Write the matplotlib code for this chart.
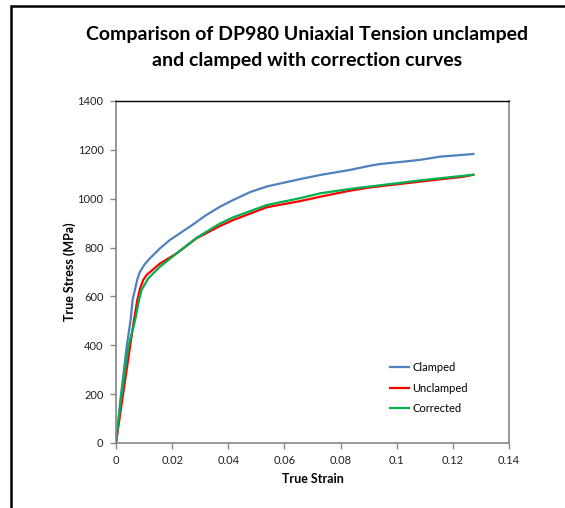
import matplotlib.pyplot as plt
from matplotlib.patches import Rectangle

# Data
strain_clamped = [0, 0.0017, 0.0038, 0.0052, 0.0059, 0.0068, 0.0076, 0.0085, 0.0103,
                  0.0121, 0.0157, 0.0192, 0.0275, 0.032, 0.037, 0.0418, 0.048, 0.0537,
                  0.0655, 0.0727, 0.0834, 0.0905, 0.094, 0.1035, 0.1083, 0.1154, 0.1273]
stress_clamped = [0, 190, 394, 503, 585, 630, 670, 700, 733,
                  756, 797, 831, 895, 932, 967, 995, 1028, 1050,
                  1080, 1097, 1118, 1135, 1142, 1153, 1159, 1172, 1183]

strain_unclamped = [0, 0.0024, 0.005, 0.0064, 0.0076, 0.0085, 0.0097, 0.0109, 0.0157,
                    0.0216, 0.0287, 0.037, 0.0418, 0.0537, 0.0655, 0.0727, 0.0834,
                    0.0905, 0.1083, 0.1237, 0.1273]
stress_unclamped = [0, 190, 394, 503, 585, 630, 667, 688, 735,
                    776, 838, 888, 913, 965, 990, 1008, 1033,
                    1046, 1070, 1090, 1098]

strain_corrected = [0, 0.0019, 0.0044, 0.0068, 0.0083, 0.0091, 0.0115, 0.0157, 0.0216,
                    0.0287, 0.037, 0.0418, 0.0537, 0.0655, 0.0727, 0.0834, 0.0905,
                    0.1035, 0.1083, 0.1273]
stress_corrected = [0, 190, 394, 503, 590, 626, 674, 722, 776,
                    840, 898, 924, 974, 1002, 1022, 1040, 1050,
                    1068, 1075, 1098]

x_ticks = [0, 0.02, 0.04, 0.06, 0.08, 0.1, 0.12, 0.14]
x_tick_labels = ['0', '0.02', '0.04', '0.06', '0.08', '0.1', '0.12', '0.14']
y_ticks = [0, 200, 400, 600, 800, 1000, 1200, 1400]

plt.rcParams['font.family'] = ['Lato', 'DejaVu Sans']

fig = plt.figure(figsize=(5.65, 5.08), dpi=100)
ax = fig.add_axes([0.2053, 0.1280, 0.6956, 0.6732])

ax.plot(strain_clamped, stress_clamped, color='#4F81BD', lw=1.6, label='Clamped')
ax.plot(strain_unclamped, stress_unclamped, color='#FF0000', lw=1.6, label='Unclamped')
ax.plot(strain_corrected, stress_corrected, color='#00B050', lw=1.6, label='Corrected')

ax.set_xlim(0, 0.14)
ax.set_ylim(0, 1400)
ax.set_xticks(x_ticks)
ax.set_xticklabels(x_tick_labels)
ax.set_yticks(y_ticks)
ax.tick_params(axis='both', direction='out', length=4, width=1, color='#868686',
               labelsize=8, labelcolor='#222222', pad=5)

for side in ['left', 'bottom', 'right']:
    ax.spines[side].set_color('#868686')
    ax.spines[side].set_linewidth(1.2)
ax.spines['top'].set_color('#000000')
ax.spines['top'].set_linewidth(1.0)

ax.set_xlabel('True Strain', fontsize=9, fontweight='bold', labelpad=5)
ax.set_ylabel('True Stress (MPa)', fontsize=9, fontweight='bold', labelpad=1)

ax.legend(loc='lower right', bbox_to_anchor=(0.92, 0.055), frameon=False, fontsize=8,
          handlelength=1.7, handletextpad=0.25, labelspacing=0.85)

fig.text(0.543, 0.933, 'Comparison of DP980 Uniaxial Tension unclamped',
         ha='center', va='center', fontsize=14, fontweight='bold')
fig.text(0.543, 0.881, 'and clamped with correction curves',
         ha='center', va='center', fontsize=14, fontweight='bold')

# outer chart border
border = Rectangle((11 / 565, -0.05), 1.2, 1.05 - 6 / 508, transform=fig.transFigure,
                   fill=False, edgecolor='black', lw=1.8, clip_on=False)
fig.patches.append(border)

plt.savefig('out.png', dpi=100)
plt.close()
